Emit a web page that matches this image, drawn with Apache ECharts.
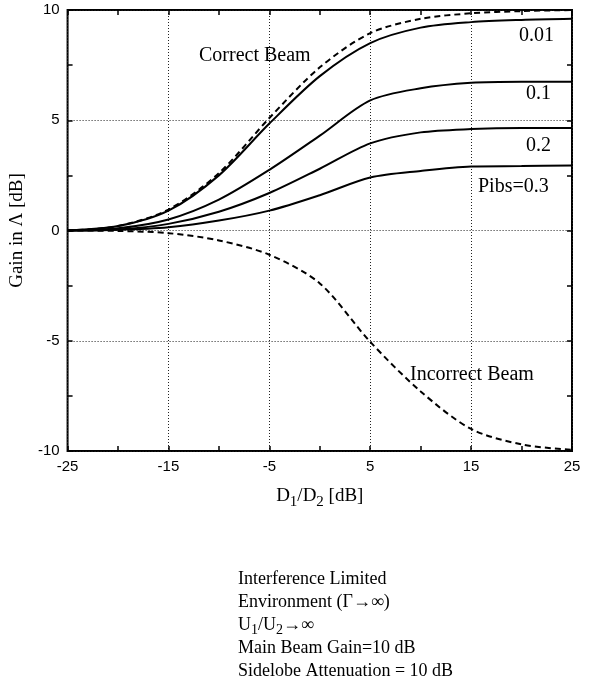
<!DOCTYPE html>
<html>
<head>
<meta charset="utf-8">
<script src="https://cdn.jsdelivr.net/npm/echarts@6/dist/echarts.min.js"></script>
<style>
  html, body { margin: 0; padding: 0; background: #fff; }
  #chart { width: 590px; height: 686px; }
</style>
</head>
<body>
<div id="chart"></div>
<script>
  // D1/D2 in dB
  const xValues = [-25, -20, -15, -10, -5, 0, 5, 10, 15, 20, 25];
  const correctBeam = [0, 0.2, 0.95, 2.6, 5.1, 7.4, 8.95, 9.6, 9.85, 9.95, 10];
  const pibs001 = [0, 0.2, 0.9, 2.5, 4.85, 7.0, 8.5, 9.2, 9.45, 9.55, 9.6];
  const pibs01 = [0, 0.1, 0.5, 1.4, 2.75, 4.3, 5.9, 6.45, 6.7, 6.75, 6.75];
  const pibs02 = [0, 0.05, 0.3, 0.85, 1.7, 2.8, 3.95, 4.45, 4.6, 4.65, 4.65];
  const pibs03 = [0, 0.03, 0.15, 0.45, 0.9, 1.6, 2.4, 2.7, 2.9, 2.92, 2.95];
  const incorrectBeam = [0, -0.02, -0.12, -0.45, -1.1, -2.4, -5.05, -7.3, -9.0, -9.7, -9.95];

  const serif = '"Liberation Serif", "DejaVu Serif", serif';
  const sans = '"Liberation Sans", Arial, sans-serif';

  function pairs(ys) {
    return xValues.map((x, i) => [x, ys[i]]);
  }

  let chart = echarts.init(document.getElementById('chart'));

  function curve(name, ys, dash) {
    return {
      name: name,
      type: 'line',
      smooth: 0.3,
      showSymbol: false,
      lineStyle: { color: '#000', width: 2, type: dash ? [6, 4] : 'solid' },
      data: pairs(ys),
      z: 3
    };
  }

  const tickStyle = { show: true, inside: true, length: 5, lineStyle: { color: '#000', width: 1.5 } };
  const minorStyle = { show: true, splitNumber: 2, length: 5, lineStyle: { color: '#000', width: 1.5 } };
  const gridLine = { show: true, lineStyle: { color: '#222', width: 1, type: [1, 2] } };
  const noLine = { show: false, onZero: false };

  let option = {
    animation: false,
    grid: {
      left: 67, right: 18, top: 10, bottom: 235,
      show: true, borderColor: '#000', borderWidth: 2, backgroundColor: 'transparent'
    },
    xAxis: [
      {
        type: 'value', min: -25, max: 25, interval: 10,
        axisLine: noLine,
        axisTick: tickStyle,
        minorTick: minorStyle,
        splitLine: gridLine,
        axisLabel: { color: '#000', fontFamily: sans, fontSize: 15, margin: 8 },
        name: '{n|D}{s|1}{n|/D}{s|2}{n| [dB]}',
        nameLocation: 'middle',
        nameGap: 32,
        nameTextStyle: {
          rich: {
            n: { fontFamily: serif, fontSize: 19, color: '#000' },
            s: { fontFamily: serif, fontSize: 15, color: '#000', padding: [12, 0, 0, 0] }
          }
        }
      },
      {
        type: 'value', min: -25, max: 25, interval: 10, position: 'top',
        axisLine: noLine,
        axisTick: tickStyle,
        minorTick: minorStyle,
        splitLine: { show: false },
        axisLabel: { show: false }
      }
    ],
    yAxis: [
      {
        type: 'value', min: -10, max: 10, interval: 5,
        axisLine: noLine,
        axisTick: tickStyle,
        minorTick: minorStyle,
        splitLine: gridLine,
        axisLabel: { color: '#000', fontFamily: sans, fontSize: 15, margin: 8 },
        name: 'Gain in Λ [dB]',
        nameLocation: 'middle',
        nameGap: 28,
        nameTextStyle: { fontFamily: serif, fontSize: 19, color: '#000' }
      },
      {
        type: 'value', min: -10, max: 10, interval: 5, position: 'right',
        axisLine: noLine,
        axisTick: tickStyle,
        minorTick: minorStyle,
        splitLine: { show: false },
        axisLabel: { show: false }
      }
    ],
    series: [
      curve('Correct Beam', correctBeam, true),
      curve('0.01', pibs001),
      curve('0.1', pibs01),
      curve('0.2', pibs02),
      curve('Pibs=0.3', pibs03),
      curve('Incorrect Beam', incorrectBeam, true)
    ],
    graphic: [
      { type: 'text', left: 199, top: 46, z: 10, style: { text: 'Correct Beam', font: '20px ' + serif, fill: '#000' } },
      { type: 'text', left: 519, top: 26, z: 10, style: { text: '0.01', font: '20px ' + serif, fill: '#000' } },
      { type: 'text', left: 526, top: 84, z: 10, style: { text: '0.1', font: '20px ' + serif, fill: '#000' } },
      { type: 'text', left: 526, top: 136, z: 10, style: { text: '0.2', font: '20px ' + serif, fill: '#000' } },
      { type: 'text', left: 478, top: 177, z: 10, style: { text: 'Pibs=0.3', font: '20px ' + serif, fill: '#000' } },
      { type: 'text', left: 410, top: 365, z: 10, style: { text: 'Incorrect Beam', font: '20px ' + serif, fill: '#000' } },
      {
        type: 'text', left: 238, top: 568, z: 10,
        style: {
          text: 'Interference Limited\nEnvironment (Γ→∞)\n{n|U}{s|1}{n|/U}{s|2}{n|→∞}\nMain Beam Gain=10 dB\nSidelobe Attenuation = 10 dB',
          font: '18px ' + serif,
          fill: '#000',
          lineHeight: 23,
          rich: {
            n: { fontFamily: serif, fontSize: 18, lineHeight: 23 },
            s: { fontFamily: serif, fontSize: 14, padding: [10, 0, 0, 0] }
          }
        }
      }
    ]
  };
  option && chart.setOption(option);
</script>
</body>
</html>
